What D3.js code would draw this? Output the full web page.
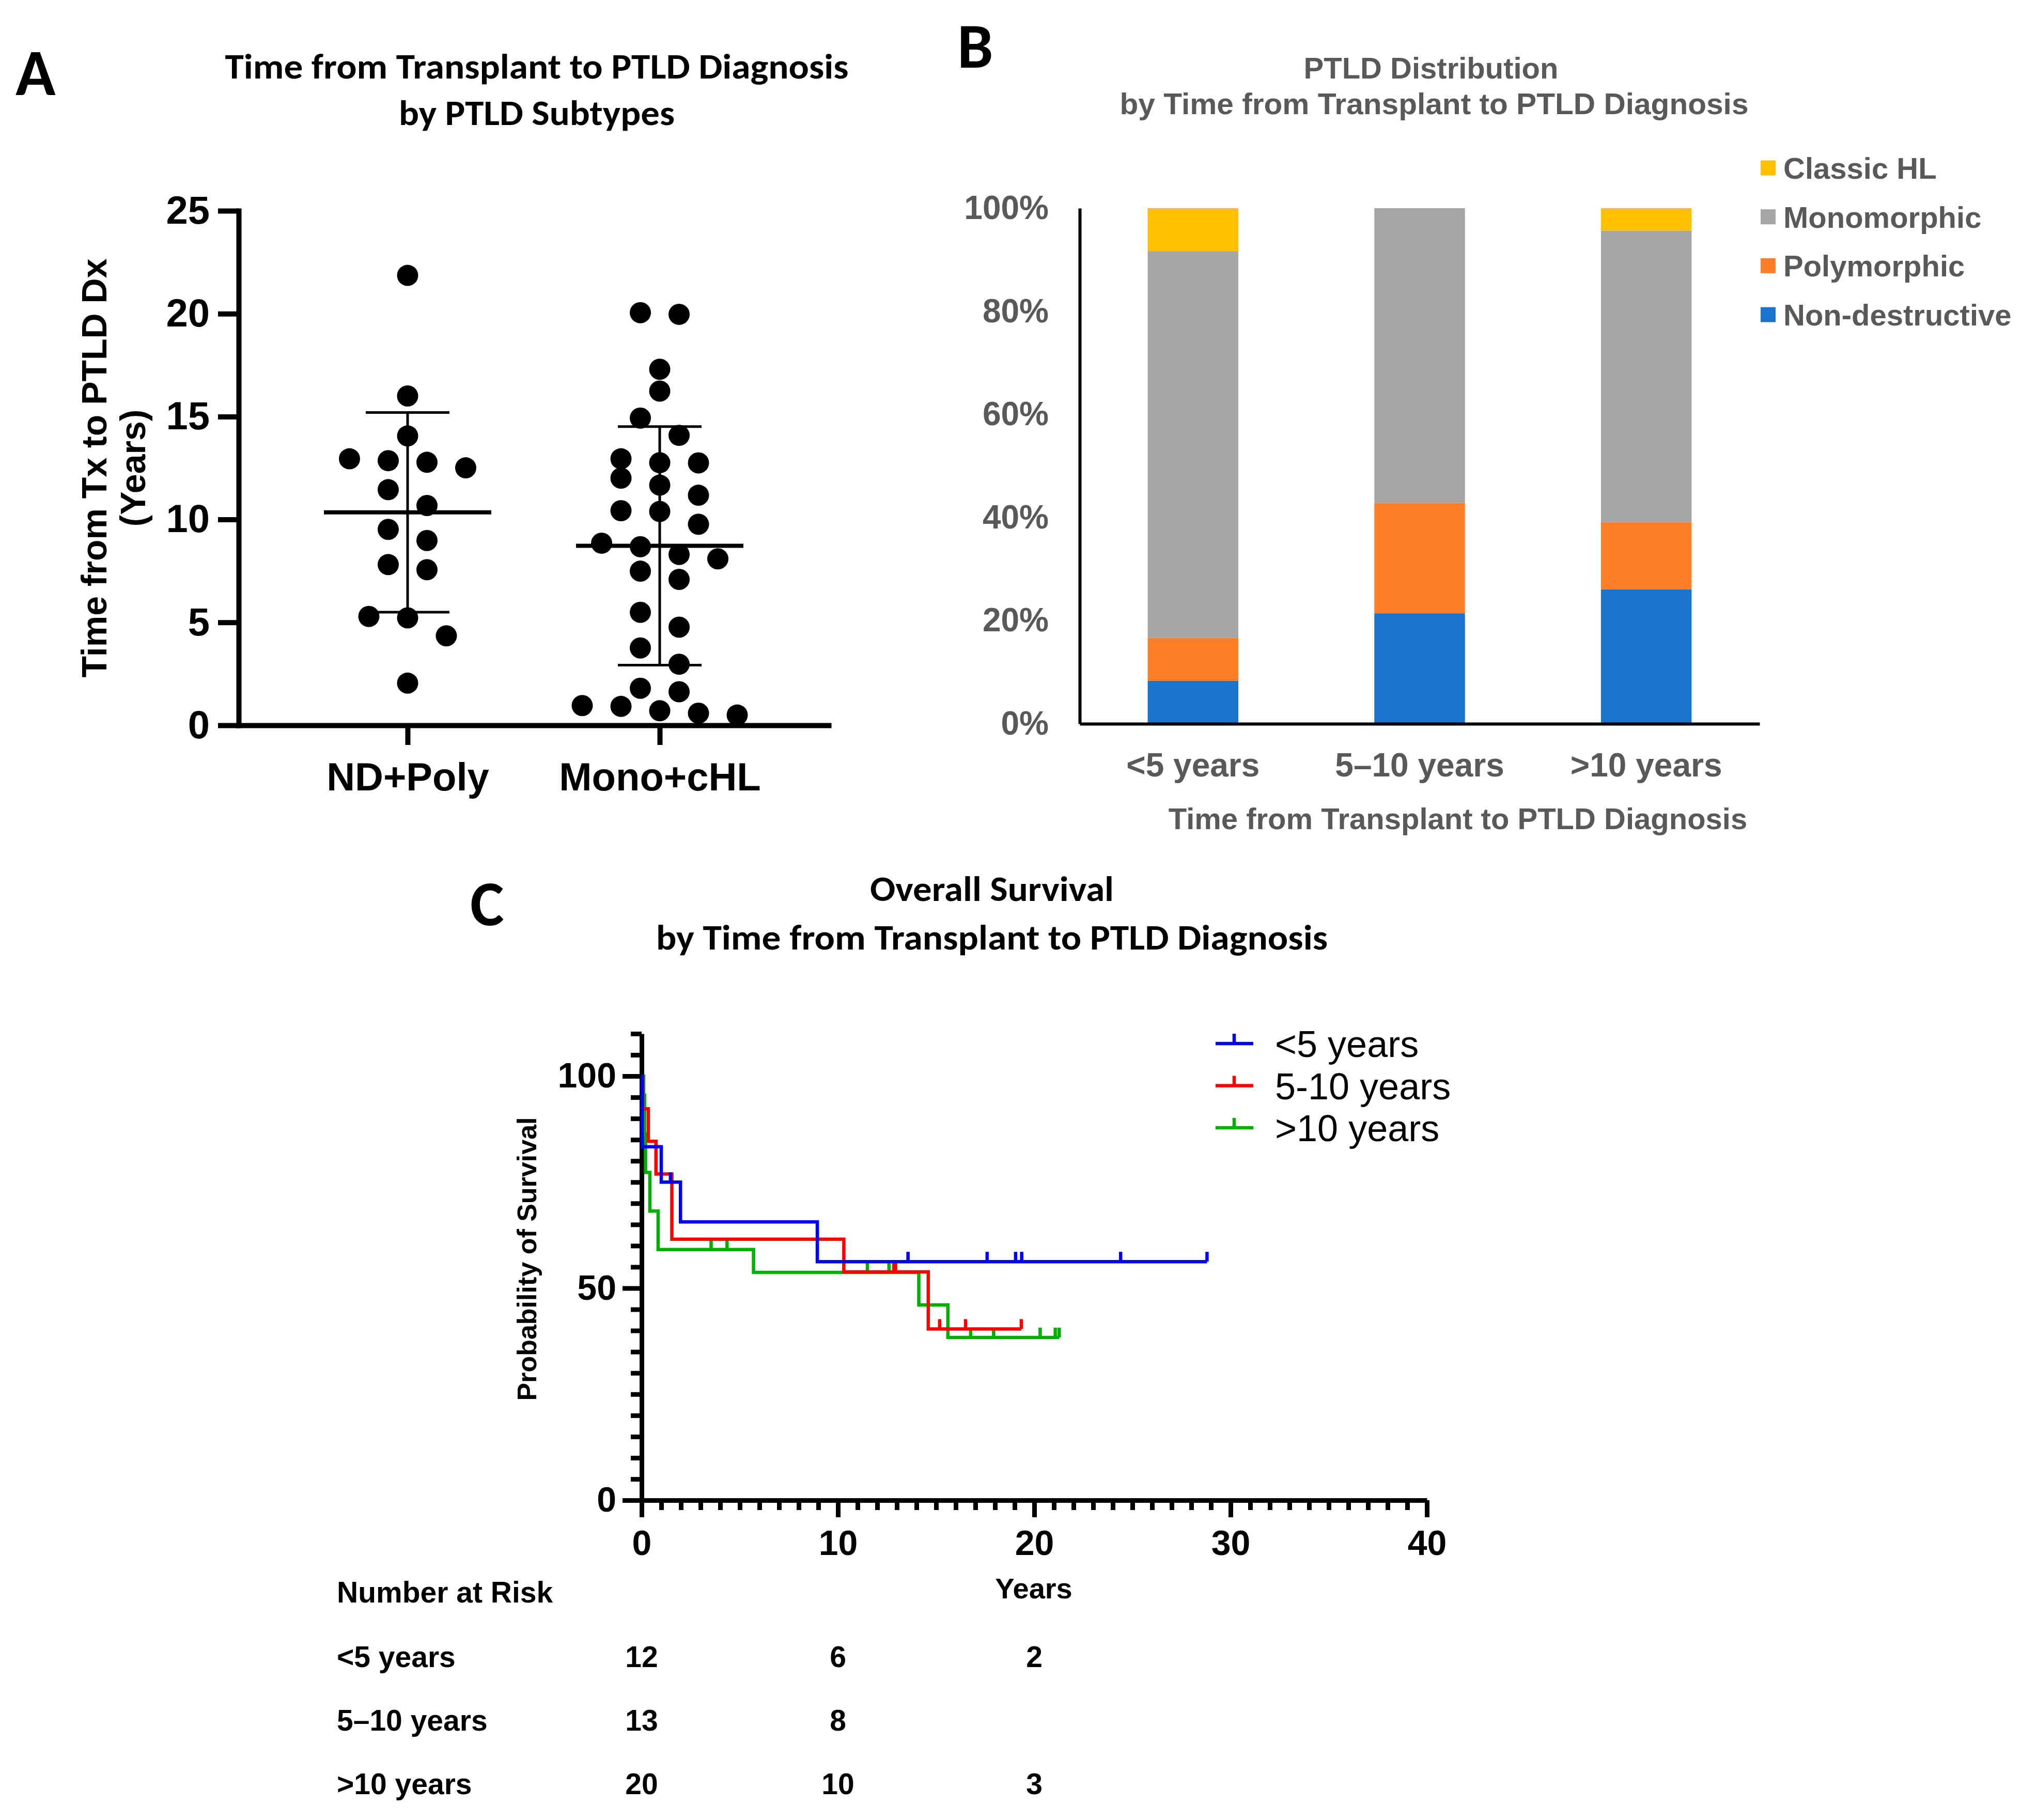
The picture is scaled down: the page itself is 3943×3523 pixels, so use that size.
<!DOCTYPE html>
<html><head><meta charset="utf-8">
<script src="https://cdn.jsdelivr.net/npm/d3@7"></script>
<style>body{margin:0;background:#fff} svg{display:block;background:#fff}</style>
</head><body>
<svg id="chart" width="3943" height="3523"></svg>
<script>
// ---------------- DATA ----------------
// Panel A: time from transplant to PTLD diagnosis (years)
const groupsA = ["ND+Poly", "Mono+cHL"];
const ndPolyYears = [21.86, 16.0, 14.06, 12.78, 12.95, 12.51, 12.86, 11.45, 10.68, 9.52, 8.98, 7.81, 7.56, 5.22, 5.29, 4.35, 2.05];
const monoChlYears = [20.05, 19.97, 17.30, 16.24, 14.93, 14.09, 12.95, 12.76, 12.75, 12.01, 11.67, 11.18, 10.43, 10.39, 9.77,
  8.85, 8.68, 8.30, 8.09, 7.49, 7.09, 5.49, 4.77, 3.76, 2.97, 1.80, 1.63, 0.96, 0.92, 0.71, 0.50, 0.59];
const yTicksA = [0, 5, 10, 15, 20, 25];

// Panel B: PTLD subtype counts by time group
const timeGroups = ["<5 years", "5\u201310 years", ">10 years"];
const subtypes = ["Non-destructive", "Polymorphic", "Monomorphic", "Classic HL"];
const countNonDestructive = [1, 3, 6];
const countPolymorphic = [1, 3, 3];
const countMonomorphic = [9, 8, 13];
const countClassicHL = [1, 0, 1];
const pctTicks = [0, 20, 40, 60, 80, 100];

// Panel C: Kaplan-Meier (event and censoring times, years)
const kmGroups = ["<5 years", "5-10 years", ">10 years"];
const lt5Deaths = [0.03, 0.03, 1.0, 1.98, 8.95];
const lt5Censored = [1.47, 13.57, 17.6, 19.05, 19.36, 24.4, 28.8];
const midDeaths = [0.05, 0.34, 0.73, 1.54, 1.54, 10.3, 14.6];
const midCensored = [12.85, 12.93, 12.93, 15.18, 16.5, 19.34];
const gt10Deaths = [0.1, 0.15, 0.15, 0.2, 0.2, 0.42, 0.42, 0.84, 0.84, 5.7, 14.12, 15.6];
const gt10Censored = [3.54, 4.35, 11.5, 12.6, 12.93, 16.76, 17.93, 20.3, 21.07, 21.27];
const xTicksC = [0, 10, 20, 30, 40];
const yTicksC = [0, 50, 100];
const riskTimes = [0, 10, 20];
const riskLabels = ["<5 years", "5\u201310 years", ">10 years"];
const riskLt5 = [12, 6, 2];
const riskMid = [13, 8, null];
const riskGt10 = [20, 10, 3];

// ---------------- SETUP ----------------
const svg = d3.select("#chart");
const ARIAL = "'Liberation Sans', Arial, Helvetica, sans-serif";
const CALIBRI = "Carlito, Lato, 'Open Sans', sans-serif";
const GREY = "#595959";

function fit(sel, w) { return sel.attr("textLength", w).attr("lengthAdjust", "spacingAndGlyphs"); }
function txt(x, y, s, size, opts = {}) {
  const t = svg.append("text").attr("x", x).attr("y", y).text(s)
    .attr("font-family", opts.family || ARIAL).attr("font-size", size)
    .attr("font-weight", opts.weight || "bold").attr("fill", opts.fill || "#000")
    .attr("text-anchor", opts.anchor || "start");
  if (opts.w) fit(t, opts.w);
  return t;
}

// ---------------- PANEL A ----------------
txt(30, 184, "A", 128, { family: CALIBRI });
txt(1039, 152, "Time from Transplant to PTLD Diagnosis", 68, { family: CALIBRI, anchor: "middle", w: 1207 });
txt(1039, 242, "by PTLD Subtypes", 68, { family: CALIBRI, anchor: "middle", w: 534 });

const A = { x0: 462, x1: 1604, y0: 1404, y1: 408 };
const yA = d3.scaleLinear().domain([0, 25]).range([A.y0, A.y1]);
const xA = d3.scalePoint().domain(groupsA).range([A.x0, A.x1]).padding(0.67);

const gyA = svg.append("g").attr("transform", `translate(${A.x0},0)`)
  .call(d3.axisLeft(yA).tickValues(yTicksA).tickSize(40).tickSizeOuter(0).tickPadding(16));
const gxA = svg.append("g").attr("transform", `translate(0,${A.y0})`)
  .call(d3.axisBottom(xA).tickSize(38).tickSizeOuter(0).tickPadding(34));
[gyA, gxA].forEach(g => {
  g.select(".domain").attr("stroke", "#000").attr("stroke-width", 10).attr("stroke-linecap", "square");
  g.selectAll(".tick line").attr("stroke", "#000").attr("stroke-width", 10);
  g.selectAll("text").attr("font-family", ARIAL).attr("font-weight", "bold").attr("fill", "#000");
});
gyA.selectAll("text").attr("font-size", 76);
gxA.selectAll("text").attr("font-size", 76);

const yLabA = svg.append("g").attr("transform", "translate(0,906)");
yLabA.append("text").attr("transform", "translate(206,0) rotate(-90)").attr("text-anchor", "middle")
  .attr("font-family", ARIAL).attr("font-weight", "bold").attr("font-size", 68).text("Time from Tx to PTLD Dx");
yLabA.append("text").attr("transform", "translate(281,0) rotate(-90)").attr("text-anchor", "middle")
  .attr("font-family", ARIAL).attr("font-weight", "bold").attr("font-size", 68).text("(Years)");

function swarm(values, cx, lane, binW) {
  const sorted = values.slice().sort((a, b) => a - b);
  const out = [];
  let k = 0;
  while (k < sorted.length) {
    const start = sorted[k];
    const bin = [];
    while (k < sorted.length && sorted[k] - start < binW) { bin.push(sorted[k]); k++; }
    const n = bin.length;
    bin.forEach((v, j) => out.push({ v, x: cx + ((n - 1) / 2 - j) * lane }));
  }
  return out;
}
const seriesA = [ndPolyYears, monoChlYears];
seriesA.forEach((vals, gi) => {
  const cx = xA(groupsA[gi]);
  const pts = swarm(vals, cx, 75, 1.0);
  svg.append("g").selectAll("circle").data(pts).join("circle")
    .attr("cx", d => d.x).attr("cy", d => yA(d.v)).attr("r", 20.5).attr("fill", "#000");
  const m = d3.mean(vals), sd = d3.deviation(vals);
  const g = svg.append("g").attr("stroke", "#000");
  g.append("line").attr("x1", cx - 162).attr("x2", cx + 162).attr("y1", yA(m)).attr("y2", yA(m)).attr("stroke-width", 8);
  g.append("line").attr("x1", cx).attr("x2", cx).attr("y1", yA(m + sd)).attr("y2", yA(m - sd)).attr("stroke-width", 5);
  [m + sd, m - sd].forEach(v => g.append("line").attr("x1", cx - 81).attr("x2", cx + 81)
    .attr("y1", yA(v)).attr("y2", yA(v)).attr("stroke-width", 5));
});

// ---------------- PANEL B ----------------
txt(1853, 131, "B", 124, { family: CALIBRI });
txt(2770, 152, "PTLD Distribution", 58, { anchor: "middle", fill: GREY });
txt(2776, 221, "by Time from Transplant to PTLD Diagnosis", 58, { anchor: "middle", fill: GREY, w: 1217 });

const B = { x0: 2090, x1: 3406, y0: 1401, y1: 403 };
const xB = d3.scaleBand().domain(timeGroups).range([B.x0, B.x1]).paddingInner(0.6).paddingOuter(0.3);
const yB = d3.scaleLinear().domain([0, 100]).range([B.y0, B.y1]);
const countsB = {
  "Non-destructive": countNonDestructive, "Polymorphic": countPolymorphic,
  "Monomorphic": countMonomorphic, "Classic HL": countClassicHL
};
const colorB = d3.scaleOrdinal().domain(subtypes).range(["#1A74CC", "#FF7F27", "#A5A5A5", "#FFC000"]);
const tableB = timeGroups.map((g, i) => {
  const tot = d3.sum(subtypes, s => countsB[s][i]);
  const row = { group: g };
  subtypes.forEach(s => row[s] = 100 * countsB[s][i] / tot);
  return row;
});
const stackB = d3.stack().keys(subtypes)(tableB);
svg.append("g").selectAll("g").data(stackB).join("g").attr("fill", d => colorB(d.key))
  .selectAll("rect").data(d => d).join("rect")
  .attr("x", d => xB(d.data.group)).attr("width", xB.bandwidth())
  .attr("y", d => yB(d[1])).attr("height", d => yB(d[0]) - yB(d[1]));

const gyB = svg.append("g").attr("transform", `translate(${B.x0},0)`)
  .call(d3.axisLeft(yB).tickValues(pctTicks).tickSize(0).tickSizeOuter(0).tickPadding(60).tickFormat(d => d + "%"));
const gxB = svg.append("g").attr("transform", `translate(0,${B.y0})`)
  .call(d3.axisBottom(xB).tickSize(0).tickSizeOuter(0).tickPadding(57));
[gyB, gxB].forEach(g => {
  g.select(".domain").attr("stroke", "#000").attr("stroke-width", 6);
  g.selectAll("text").attr("font-family", ARIAL).attr("font-weight", "bold").attr("font-size", 64).attr("fill", GREY);
});
txt(2822, 1605, "Time from Transplant to PTLD Diagnosis", 58, { anchor: "middle", fill: GREY });

const legB = svg.append("g");
subtypes.slice().reverse().forEach((s, i) => {
  const cy = 325 + i * 94.7;
  legB.append("rect").attr("x", 3408).attr("y", cy - 14.5).attr("width", 29).attr("height", 29).attr("fill", colorB(s));
  legB.append("text").attr("x", 3452).attr("y", cy + 21).text(s).attr("font-family", ARIAL)
    .attr("font-weight", "bold").attr("font-size", 58).attr("fill", GREY);
});

// ---------------- PANEL C ----------------
txt(910, 1791, "C", 124, { family: CALIBRI });
txt(1920, 1744, "Overall Survival", 68, { family: CALIBRI, anchor: "middle", w: 472 });
txt(1920, 1838, "by Time from Transplant to PTLD Diagnosis", 68, { family: CALIBRI, anchor: "middle", w: 1300 });

const C = { x0: 1242, x1: 2762, y0: 2904 };
const xC = d3.scaleLinear().domain([0, 40]).range([C.x0, C.x1]);
const yC = d3.scaleLinear().domain([0, 110]).range([C.y0, C.y0 - 110 * 8.21]);

const gxC = svg.append("g").attr("transform", `translate(0,${C.y0})`)
  .call(d3.axisBottom(xC).tickValues(d3.range(0, 41, 1)).tickSize(33).tickSizeOuter(0).tickPadding(25)
    .tickFormat(d => xTicksC.includes(d) ? d : ""));
gxC.selectAll(".tick line").attr("y2", d => xTicksC.includes(d) ? 33 : 19);
const gyC = svg.append("g").attr("transform", `translate(${C.x0},0)`)
  .call(d3.axisLeft(yC).tickValues(d3.range(0, 111, 5)).tickSize(37).tickSizeOuter(0).tickPadding(12)
    .tickFormat(d => yTicksC.includes(d) ? d : ""));
gyC.selectAll(".tick line").attr("x2", d => yTicksC.includes(d) ? -37 : -21);
[gxC, gyC].forEach(g => {
  g.select(".domain").attr("stroke", "#000").attr("stroke-width", 9);
  g.selectAll(".tick line").attr("stroke", "#000").attr("stroke-width", 9);
  g.selectAll("text").attr("font-family", ARIAL).attr("font-weight", "bold").attr("font-size", 68).attr("fill", "#000");
});

svg.append("text").attr("transform", "translate(1038,2437) rotate(-90)").attr("text-anchor", "middle")
  .attr("font-family", ARIAL).attr("font-weight", "bold").attr("font-size", 52).text("Probability of Survival");
txt(2001, 3094, "Years", 56, { anchor: "middle" });

function kaplanMeier(deaths, censored) {
  const times = Array.from(new Set(deaths.concat(censored))).sort((a, b) => a - b);
  let n = deaths.length + censored.length, s = 100;
  const steps = [{ t: 0, s: 100 }], marks = [];
  times.forEach(t => {
    const d = deaths.filter(x => x === t).length;
    const c = censored.filter(x => x === t).length;
    if (d > 0) { s = s * (1 - d / n); steps.push({ t, s }); }
    if (c > 0) marks.push({ t, s });
    n -= d + c;
  });
  steps.push({ t: times[times.length - 1], s });
  return { steps, marks };
}
const kmData = [
  { name: kmGroups[0], color: "#0000FF", km: kaplanMeier(lt5Deaths, lt5Censored) },
  { name: kmGroups[1], color: "#FF0000", km: kaplanMeier(midDeaths, midCensored) },
  { name: kmGroups[2], color: "#00B000", km: kaplanMeier(gt10Deaths, gt10Censored) }
];
const lineC = d3.line().x(d => xC(d.t)).y(d => yC(d.s)).curve(d3.curveStepAfter);
kmData.slice().reverse().forEach(g => {
  const gg = svg.append("g").attr("stroke", g.color).attr("stroke-width", 6.5).attr("fill", "none");
  gg.append("path").attr("d", lineC(g.km.steps));
  gg.selectAll("line").data(g.km.marks).join("line")
    .attr("x1", d => xC(d.t)).attr("x2", d => xC(d.t))
    .attr("y1", d => yC(d.s)).attr("y2", d => yC(d.s) - 19);
});

const legC = svg.append("g");
kmData.forEach((g, i) => {
  const y = 2020 + i * 81.5;
  legC.append("line").attr("x1", 2353).attr("x2", 2426).attr("y1", y).attr("y2", y).attr("stroke", g.color).attr("stroke-width", 6.5);
  legC.append("line").attr("x1", 2389).attr("x2", 2389).attr("y1", y).attr("y2", y - 19).attr("stroke", g.color).attr("stroke-width", 6.5);
  legC.append("text").attr("x", 2468).attr("y", y + 26).text(g.name)
    .attr("font-family", ARIAL).attr("font-size", 72).attr("fill", "#000");
});

// Number at risk table
txt(652, 3102, "Number at Risk", 57);
const riskRows = [riskLt5, riskMid, riskGt10];
riskRows.forEach((row, i) => {
  const y = 3227 + i * 123;
  txt(652, y, riskLabels[i], 57);
  row.forEach((v, j) => { if (v !== null) txt(xC(riskTimes[j]), y, String(v), 57, { anchor: "middle" }); });
});
</script>
</body></html>
